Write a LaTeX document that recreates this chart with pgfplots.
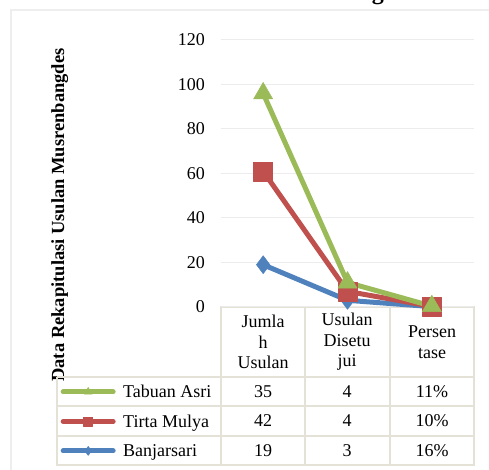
\documentclass[border=0pt]{standalone}
\usepackage{fontspec}
\setmainfont{Liberation Serif}
\usepackage{pgfplots}
\pgfplotsset{compat=1.18}
\usepackage{pgfplotstable}
\definecolor{cgreen}{RGB}{155,187,89}
\definecolor{cred}{RGB}{192,80,77}
\definecolor{cblue}{RGB}{79,129,189}
\definecolor{gridc}{RGB}{236,236,236}
\definecolor{tabc}{RGB}{228,225,214}
\definecolor{framec}{RGB}{238,238,238}

\pgfplotstableread{
x Banjarsari TirtaMulya TabuanAsri
0 19 42 35
1 3 4 4
2 0.16 0.10 0.11
}\datatable

\begin{document}
\begin{tikzpicture}[x=1pt,y=1pt]
\useasboundingbox (0,0) rectangle (489,470);
\begin{scope}
\clip (0,0) rectangle (489,470);
\draw[framec, line width=1.2pt] (11,-5) -- (11,460) -- (495,460);
\node[font=\fontsize{24}{28}\selectfont\bfseries, anchor=base east, inner sep=0pt] at (384,470) {Musrenbang};
\end{scope}
\node[font=\fontsize{18.5}{20}\selectfont\bfseries, rotate=90, anchor=base, inner sep=0pt] at (64,255) {Data Rekapitulasi Usulan Musrenbangdes};
% data table grid
\draw[tabc, line width=1.2pt]
  (221,163) rectangle (474,5)
  (305,163) -- (305,5)
  (390,163) -- (390,5)
  (57,93) -- (221,93)
  (57,93) -- (57,5) -- (221,5)
  (57,64) -- (474,64)
  (57,34) -- (474,34)
  (221,93) -- (474,93);
\begin{axis}[
  at={(221pt,163pt)}, anchor=south west,
  scale only axis, width=253pt, height=267pt,
  xmin=-0.5, xmax=2.5, ymin=0, ymax=120,
  ytick={0,20,...,120}, xtick=\empty,
  axis line style={draw=none},
  major tick length=0pt,
  ymajorgrids, grid style={gridc, line width=1pt},
  /pgf/number format/assume math mode=true,
  yticklabel style={font=\fontsize{18}{20}\selectfont, anchor=east, inner sep=0pt, xshift=-16pt},
  stack plots=y,
  reverse stacked plots=false,
  clip=false,
  legend style={at={(-0.668,-0.262)}, anchor=north west, draw=none, fill=none,
    inner sep=0pt, row sep=0pt, column sep=0pt,
    font=\fontsize{18}{20}\selectfont,
    nodes={inner sep=0pt, text height=20.5pt, text depth=9pt}},
  legend cell align=left,
  reverse legend,
  legend image code/.code={
    \draw[mark size=4.5pt, mark repeat=2, mark phase=2, line cap=round]
      plot coordinates {(8.5pt,0pt) (33.5pt,0pt) (58.5pt,0pt)};
    \path (0pt,0pt) (66pt,0pt);
  },
]
\addplot[cblue, line width=5pt, line join=round, mark=diamond*, mark size=9pt, mark options={line width=0.5pt}]
  table[x=x, y=Banjarsari]{\datatable};
\addplot[cred, line width=5pt, line join=round, mark=square*, mark size=9.5pt, mark options={line width=0.5pt}]
  table[x=x, y=TirtaMulya]{\datatable};
\addplot[cgreen, line width=5pt, line join=round, mark=triangle*, mark size=11pt, mark options={line width=0.5pt}]
  table[x=x, y=TabuanAsri]{\datatable};
\legend{Banjarsari, Tirta Mulya, Tabuan Asri}
\end{axis}
% table text
\begin{scope}[every node/.style={font=\fontsize{18}{20.5}\selectfont, align=center, inner sep=0pt}]
\node at (263,128) {Jumla\\h\\Usulan};
\node at (347,128) {Usulan\\Disetu\\jui};
\node at (432,128) {Persen\\tase};
\node[anchor=base] at (263,72.5) {35};
\node[anchor=base] at (347,72.5) {4};
\node[anchor=base] at (432,72.5) {11\%};
\node[anchor=base] at (263,43) {42};
\node[anchor=base] at (347,43) {4};
\node[anchor=base] at (432,43) {10\%};
\node[anchor=base] at (263,13.5) {19};
\node[anchor=base] at (347,13.5) {3};
\node[anchor=base] at (432,13.5) {16\%};
\end{scope}
\end{tikzpicture}
\end{document}
